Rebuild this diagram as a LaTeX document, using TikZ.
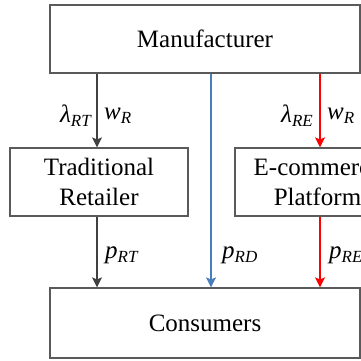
\documentclass[tikz,border=0pt]{standalone}
\usepackage{fontspec}
\setmainfont{Liberation Serif}
\usetikzlibrary{arrows.meta}
\definecolor{edgegray}{HTML}{404040}
\definecolor{boxline}{HTML}{5A5A5A}
\definecolor{bluearr}{HTML}{4A7EBB}
\definecolor{redarr}{HTML}{FF0000}
% italic subscript lowered below the baseline
\newcommand\lowsub[1]{\raisebox{-4pt}{\fontsize{17}{17}\selectfont #1}}
\begin{document}
\begin{tikzpicture}[x=1pt,y=-1pt,
  entity/.style={draw=boxline, line width=1.2pt, inner sep=0pt,
    font=\fontsize{25}{30}\selectfont, align=center},
  flow/.style={line width=1.2pt, -{Stealth[length=10pt,width=10pt,inset=2pt]}},
  lbl/.style={font=\fontsize{25}{30}\selectfont\itshape, inner sep=0pt}]
\useasboundingbox (0,0) rectangle (361,361);
\clip (0,0) rectangle (361,361);

% boxes
\node[entity, minimum width=310pt, minimum height=68pt] (man) at (205,39) {Manufacturer};
\node[entity, minimum width=178pt, minimum height=68pt] (trad) at (99,182) {Traditional\\Retailer};
\node[entity, minimum width=165pt, minimum height=68pt] (ecom) at (317.5,182) {E-commerce\\Platform};
\node[entity, minimum width=310pt, minimum height=70pt] (cons) at (205,323) {Consumers};

% channel positions
\coordinate (xRT) at (97,0);
\coordinate (xRD) at (211,0);
\coordinate (xRE) at (320,0);

% flows
\draw[flow, edgegray] (xRT |- man.south) -- (xRT |- trad.north);
\draw[flow, edgegray] (xRT |- trad.south) -- (xRT |- cons.north);
\draw[flow, bluearr] (xRD |- man.south) -- (xRD |- cons.north);
\draw[flow, redarr] (xRE |- man.south) -- (xRE |- ecom.north);
\draw[flow, redarr] (xRE |- ecom.south) -- (xRE |- cons.north);

% labels
\node[lbl, anchor=east] (lRT) at (91,116) {λ\lowsub{RT}};
\node[lbl, anchor=west] (wRT) at (104,116) {w\lowsub{R}};
\node[lbl, anchor=east] (lRE) at (313,116) {λ\lowsub{RE}};
\node[lbl, anchor=west] (wRE) at (327,116) {w\lowsub{R}};
\node[lbl, anchor=west] (pRT) at (105,255) {p\lowsub{RT}};
\node[lbl, anchor=west] (pRD) at (222,255) {p\lowsub{RD}};
\node[lbl, anchor=west] (pRE) at (329,255) {p\lowsub{RE}};
\end{tikzpicture}
\end{document}
